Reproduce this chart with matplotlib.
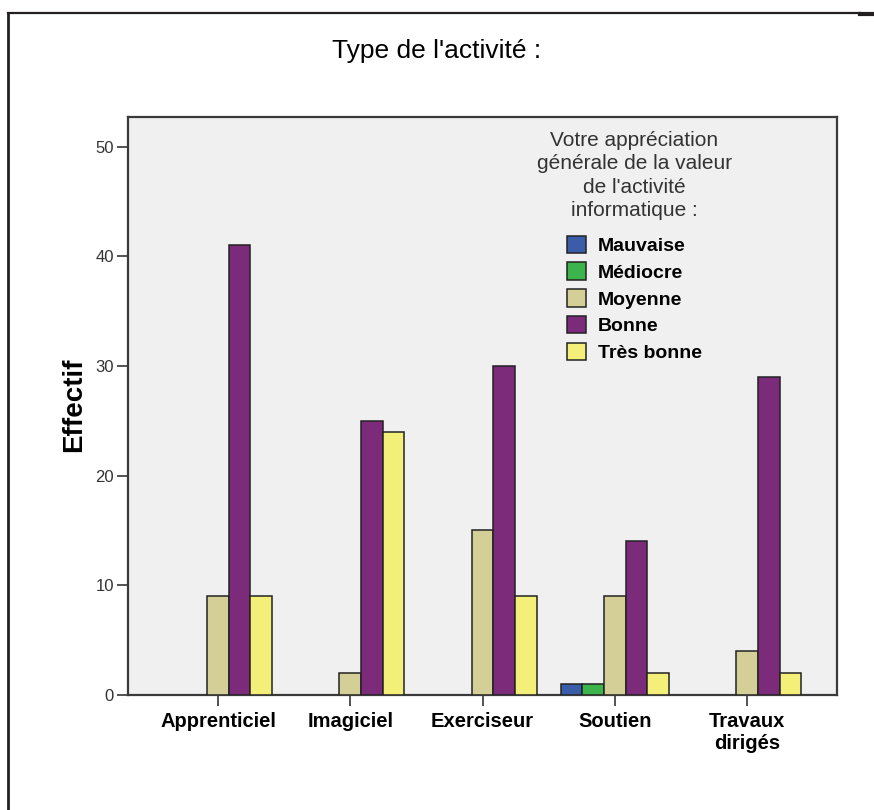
import numpy as np
import matplotlib.pyplot as plt
from matplotlib.lines import Line2D

plt.rcParams['font.family'] = ['Liberation Sans', 'DejaVu Sans']

# Data
categories = ['Apprenticiel', 'Imagiciel', 'Exerciseur', 'Soutien', 'Travaux\ndirigés']
levels = ['Mauvaise', 'Médiocre', 'Moyenne', 'Bonne', 'Très bonne']
mauvaise = [0, 0, 0, 1, 0]
mediocre = [0, 0, 0, 1, 0]
moyenne = [9, 2, 15, 9, 4]
bonne = [41, 25, 30, 14, 29]
tres_bonne = [9, 24, 9, 2, 2]
yticks = [0, 10, 20, 30, 40, 50]

series = [mauvaise, mediocre, moyenne, bonne, tres_bonne]
colors = ['#3b5ca8', '#3cb44b', '#d4cf96', '#7c2a7a', '#f4ef78']

fig = plt.figure(figsize=(8.74, 8.10), dpi=100)
ax = fig.add_axes([128 / 874, 1 - 695 / 810, 709 / 874, 578 / 810])
ax.set_facecolor('#eff0ef')

x = np.arange(len(categories))
w = 0.164
for i, (vals, lab, col) in enumerate(zip(series, levels, colors)):
    vals = np.array(vals, dtype=float)
    mask = vals > 0
    ax.bar(x[mask] + (i - 2) * w, vals[mask], w, color=col, edgecolor='#222222',
           linewidth=1.1, label=lab, zorder=3)

ax.set_xlim(-0.68, 4.68)
ax.set_ylim(0, 52.7)
ax.set_xticks(x)
ax.set_xticklabels(categories, fontsize=14.5, fontweight='bold', linespacing=1.2)
ax.set_yticks(yticks)
ax.tick_params(axis='y', length=8, width=1.3, pad=2, labelsize=12, labelcolor='#333333', color='#444444')
ax.tick_params(axis='x', length=8, width=1.3, pad=4, color='#444444')
for s in ax.spines.values():
    s.set_color('#3a3a3a')
    s.set_linewidth(1.6)

ax.set_ylabel('Effectif', fontsize=20, fontweight='bold')
ax.yaxis.set_label_coords(-0.057, 0.503)

fig.text(0.5, 1 - 51 / 810, "Type de l'activité :", ha='center', va='center', fontsize=19)

leg = ax.legend(title="Votre appréciation\ngénérale de la valeur\nde l'activité\ninformatique :",
                loc='upper center', bbox_to_anchor=(0.714, 0.976), frameon=False,
                prop={'size': 14, 'weight': 'bold'}, title_fontsize=15,
                handlelength=1.0, handleheight=1.0, handletextpad=0.6,
                labelspacing=0.38, alignment='center', borderpad=0, borderaxespad=0)
leg.get_title().set_color('#333333')
leg.get_title().set_linespacing(1.3)
leg.get_title().set_multialignment('center')
leg._legend_box.sep = 11  # gap between title and entries

# frame lines around the figure
fig.add_artist(Line2D([8 / 874, 8 / 874], [0, 1 - 13 / 810], transform=fig.transFigure,
                      color='#231f20', linewidth=2))
fig.add_artist(Line2D([8 / 874, 860 / 874], [1 - 13 / 810, 1 - 13 / 810], transform=fig.transFigure,
                      color='#231f20', linewidth=1.6))
fig.add_artist(Line2D([860 / 874, 1], [1 - 13.5 / 810, 1 - 13.5 / 810], transform=fig.transFigure,
                      color='#231f20', linewidth=3))

fig.savefig('out.png', dpi=100)
